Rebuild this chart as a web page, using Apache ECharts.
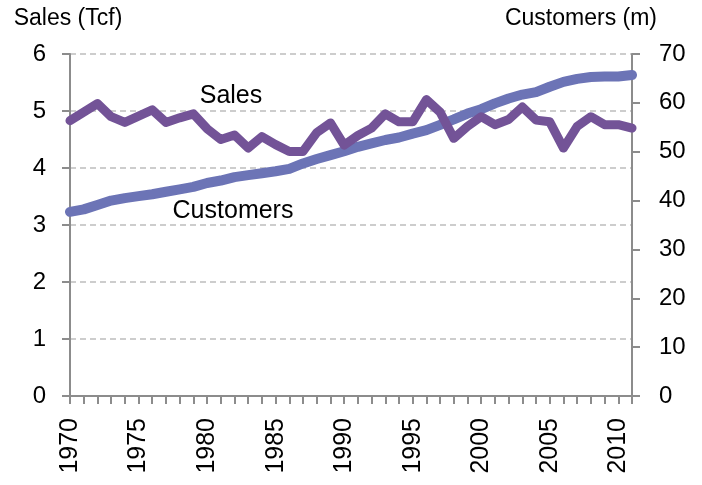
<!DOCTYPE html>
<html>
<head>
<meta charset="utf-8">
<script src="https://cdn.jsdelivr.net/npm/echarts@6/dist/echarts.min.js"></script>
<style>
  html, body { margin: 0; padding: 0; background: #fff; }
  #chart { width: 702px; height: 485px; }
</style>
</head>
<body>
<div id="chart"></div>
<script>
const years = [];
for (let y = 1970; y <= 2011; y++) years.push(String(y));

const sales = [
    4.83, 4.98, 5.13, 4.90, 4.80, 4.91, 5.02, 4.80, 4.88, 4.95,
    4.69, 4.50, 4.58, 4.35, 4.55, 4.41, 4.29, 4.29, 4.62, 4.79,
    4.40, 4.57, 4.70, 4.95, 4.81, 4.81, 5.20, 4.98, 4.52, 4.73,
    4.90, 4.76, 4.85, 5.07, 4.84, 4.81, 4.35, 4.73, 4.90, 4.76,
    4.76, 4.70
];
const customers = [
    37.7, 38.2, 39.1, 40.0, 40.5, 40.9, 41.3, 41.8, 42.3, 42.8,
    43.6, 44.1, 44.8, 45.2, 45.6, 46.0, 46.5, 47.6, 48.5, 49.3,
    50.1, 51.0, 51.7, 52.4, 52.9, 53.7, 54.4, 55.5, 56.6, 57.8,
    58.7, 59.9, 60.9, 61.7, 62.2, 63.3, 64.3, 64.9, 65.3, 65.4,
    65.4, 65.7
];

const font = 'Liberation Sans, Arial, sans-serif';
const axisGray = '#8c8c8c';

const chart = echarts.init(document.getElementById('chart'));
chart.setOption({
    animation: false,
    grid: { left: 70, right: 70, top: 54, bottom: 89 },
    xAxis: {
        type: 'category',
        data: years,
        boundaryGap: false,
        axisLine: { lineStyle: { color: axisGray, width: 2 } },
        axisTick: { interval: 0, length: 8, lineStyle: { color: axisGray, width: 2 } },
        axisLabel: {
            interval: 4, rotate: 90, margin: 22,
            color: '#000', fontSize: 25, fontFamily: font
        },
        splitLine: { show: false }
    },
    yAxis: [{
        type: 'value', min: 0, max: 6, interval: 1,
        axisLine: { show: true, lineStyle: { color: axisGray, width: 2 } },
        axisTick: { show: true, length: 8, lineStyle: { color: axisGray, width: 2 } },
        axisLabel: { margin: 24, color: '#000', fontSize: 24, fontFamily: font },
        splitLine: { lineStyle: { color: '#bdbdbd', type: [6, 4], width: 1.5 } }
    }, {
        type: 'value', min: 0, max: 70, interval: 10,
        axisLine: { show: true, lineStyle: { color: axisGray, width: 2 } },
        axisTick: { show: true, length: 8, lineStyle: { color: axisGray, width: 2 } },
        axisLabel: { margin: 27, color: '#000', fontSize: 24, fontFamily: font },
        splitLine: { show: false }
    }],
    series: [{
        name: 'Customers',
        type: 'line',
        yAxisIndex: 1,
        data: customers,
        showSymbol: false,
        lineStyle: { color: '#6c74b6', width: 10, cap: 'round', join: 'round' },
        itemStyle: { color: '#6c74b6' }
    }, {
        name: 'Sales',
        type: 'line',
        yAxisIndex: 0,
        data: sales,
        showSymbol: false,
        lineStyle: { color: '#735397', width: 9, cap: 'round', join: 'round' },
        itemStyle: { color: '#735397' }
    }],
    graphic: [
        { type: 'text', x: 68, y: 19, style: { text: 'Sales (Tcf)', font: '23px ' + font, fill: '#000', align: 'center', verticalAlign: 'middle' } },
        { type: 'text', x: 581, y: 19, style: { text: 'Customers (m)', font: '23px ' + font, fill: '#000', align: 'center', verticalAlign: 'middle' } },
        { type: 'text', x: 231, y: 96, style: { text: 'Sales', font: '25px ' + font, fill: '#000', align: 'center', verticalAlign: 'middle' } },
        { type: 'text', x: 233, y: 211, style: { text: 'Customers', font: '25px ' + font, fill: '#000', align: 'center', verticalAlign: 'middle' } }
    ]
});
</script>
</body>
</html>
